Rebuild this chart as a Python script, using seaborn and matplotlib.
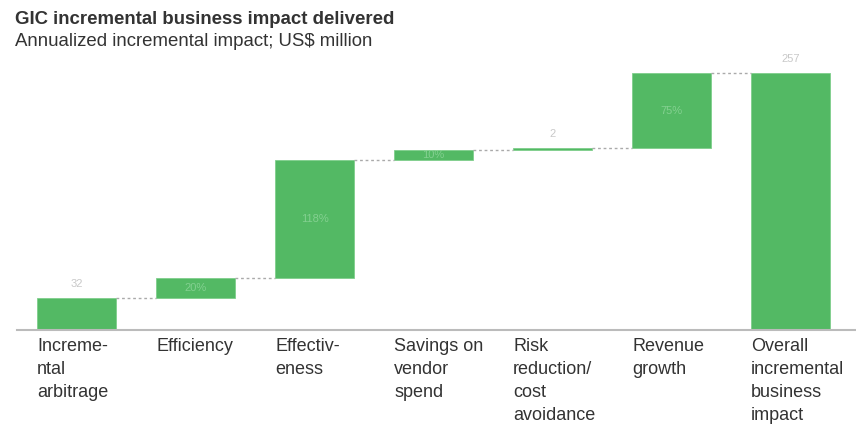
import matplotlib
matplotlib.use("Agg")
import matplotlib.pyplot as plt
import matplotlib.transforms as mtransforms
import seaborn as sns
import pandas as pd
import numpy as np

categories = ["Increme-\nntal\narbitrage", "Efficiency", "Effectiv-\neness",
              "Savings on\nvendor\nspend", "Risk\nreduction/\ncost\navoidance",
              "Revenue\ngrowth", "Overall\nincremental\nbusiness\nimpact"]
increments = [32, 20, 118, 10, 2, 75]
total = sum(increments)
value_labels = ["32", "20", "118", "10", "2", "75", str(total)]
label_inside = [False, True, True, True, False, True, False]

heights = increments + [total]
bottoms = list(np.concatenate([[0], np.cumsum(increments)[:-1]])) + [0]

sns.set_theme(style="white")
plt.rcParams['font.family'] = ['Liberation Sans', 'DejaVu Sans']

GREEN = "#53B964"
fig = plt.figure(figsize=(8.56, 4.26), dpi=100)
W, H = 856, 426
ax = fig.add_axes([17 / W, (H - 330) / H, (W - 17) / W, (330 - 55) / H])

df = pd.DataFrame({"cat": categories, "height": heights, "bottom": bottoms})
sns.barplot(data=df, x="cat", y="height", color=GREEN, saturation=1,
            width=0.664, bottom=df["bottom"].values, edgecolor="#7fcf8b",
            linewidth=0.6, ax=ax)

ax.set_xlim(-0.5, 6.55)
ax.set_ylim(0, 275)

# connectors
bw = 0.664
running = np.cumsum(increments)
for i, lvl in enumerate(running):
    ax.plot([i + bw / 2, i + 1 - bw / 2], [lvl, lvl], color="#aaaaaa",
            lw=1, ls=(0, (2, 2)), zorder=1)

# faint value labels (blurred in reference)
for i, (h, b, lab, inside) in enumerate(zip(heights, bottoms, value_labels, label_inside)):
    if inside:
        ax.text(i, b + h / 2, lab + "%", ha="center", va="center", fontsize=8,
                color="#8fd69b", alpha=0.8)
    else:
        ax.text(i, b + h + 14, lab, ha="center", va="center", fontsize=8,
                color="#bbbbbb", alpha=0.8)

sns.despine(ax=ax, left=True, top=True, right=True)
ax.spines["bottom"].set_color("#bbbbbb")
ax.spines["bottom"].set_linewidth(1.5)
ax.set_yticks([])
ax.set_xlabel("")
ax.set_ylabel("")
ax.tick_params(axis="x", length=0, pad=6)
off = mtransforms.ScaledTranslation(-bw / 2 * 119 / 100, 0, fig.dpi_scale_trans)
for lbl in ax.get_xticklabels():
    lbl.set_horizontalalignment("left")
    lbl.set_verticalalignment("top")
    lbl.set_fontsize(13)
    lbl.set_color("#333333")
    lbl.set_linespacing(1.45)
    lbl.set_transform(lbl.get_transform() + off)

fig.text(15 / W, 1 - 11 / H, "GIC incremental business impact delivered",
         fontsize=13.4, fontweight="bold", color="#333333", va="top", ha="left")
fig.text(15 / W, 1 - 33 / H, "Annualized incremental impact; US$ million",
         fontsize=13.4, color="#333333", va="top", ha="left")

fig.savefig("out.png", dpi=100)
